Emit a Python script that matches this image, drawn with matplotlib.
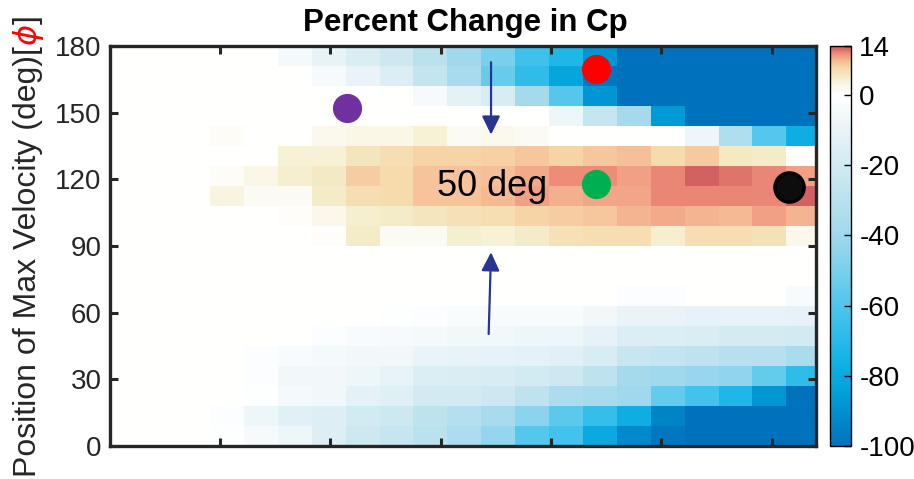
import numpy as np
import matplotlib
matplotlib.use("Agg")
import matplotlib.pyplot as plt
from matplotlib.colors import LinearSegmentedColormap, Normalize
from matplotlib.cm import ScalarMappable

plt.rcParams['font.family'] = ['Liberation Sans', 'DejaVu Sans']

# ---------------- data ----------------
# rows listed from the top (171-180 deg) to the bottom (0-9 deg); 21 columns each
pct_change_rows = [
    [0, 0, 0, 0, 0, -5, -10, -17, -22, -30, -40, -50, -64, -72, -88, -100, -100, -100, -100, -100, -100],
    [0, 0, 0, 0, 0, 0, -4, -9, -16, -26, -37, -54, -68, -82, -98, -100, -100, -100, -100, -100, -100],
    [0, 0, 0, 0, 0, 0, 0, 0, 0, -4, -12, -18, -38, -58, -88, -100, -100, -100, -100, -100, -100],
    [0, 0, 0, 0, 0, 0, 0, 0, 0, 0, 0, 0, 0, -8, -25, -38, -87, -100, -100, -100, -100],
    [0, 0, 0, 1, 0, 0, 2, 3, 3, 4, 1.5, 2, 1.5, 0, 0, 0, 0, -8, -33, -58, -78],
    [0, 0, 0, 0, 0, 4, 4, 6, 7, 8, 8, 8.3, 9, 8.2, 9, 9.5, 7.5, 8.8, 5.5, 5, 0.5],
    [0, 0, 0, 1, 3, 4.5, 5.5, 8.5, 7.5, 9.3, 9.3, 9.5, 10.5, 11.8, 11.8, 11, 12, 13.5, 12.8, 12, 11],
    [0, 0, 0, 3.5, 1.5, 1.5, 5, 7, 7.5, 9.2, 9.2, 9.8, 11, 10.3, 10.8, 10.8, 12, 12, 12, 12, 13.5],
    [0, 0, 0, 0, 0, 0.5, 2.5, 4.5, 5, 6, 6.5, 7, 8, 8.5, 9, 10, 10.5, 10, 9.8, 11, 10],
    [0, 0, 0, 0, 0, 0, 0.5, 5, 1.5, 1.5, 4.5, 4, 5, 6.5, 7, 7, 4.5, 7, 7, 6.5, 2.5],
    [0, 0, 0, 0, 0, 0, 0, 0, 0, 0, 0, 0, 0, 0, 0, 0, 0, 0, 0, 0, 0],
    [0, 0, 0, 0, 0, 0, 0, 0, 0, 0, 0, 0, 0, 0, 0, 0, 0, 0, 0, 0, 0],
    [0, 0, 0, 0, 0, 0, 0, 0, 0, 0, 0, 0, 0, 0, 0, -1.5, -2, 0, 0, 0, -3],
    [0, 0, 0, 0, 0, 0, 0, 0, -1, -2, -2.5, -3, -3, -3.5, -6, -9, -9, -11, -10, -10, -11],
    [0, 0, 0, 0, 0, 0, -1.5, -3, -4, -5, -6, -6, -8, -8, -11, -16, -16, -17, -19, -19, -20],
    [0, 0, 0, 0, -1.5, -3, -5, -6, -6, -9, -10, -11, -12, -13, -18, -24, -26, -28, -31, -31, -36],
    [0, 0, 0, 0, -2, -6, -6, -8, -10, -16, -17, -18, -20, -22, -28, -38, -40, -42, -44, -55, -68],
    [0, 0, 0, 0, -1, -5, -6, -12, -14, -20, -20, -22, -28, -35, -37, -40, -55, -63, -72, -88, -100],
    [0, 0, 0, -2, -8, -13, -15, -20, -22, -28, -32, -37, -45, -57, -66, -78, -94, -100, -100, -100, -100],
    [0, 0, 0, -1, -4, -8, -15, -22, -25, -30, -35, -43, -58, -63, -80, -92, -98, -100, -100, -100, -100],
]
phi_bin_deg = 9
y_ticks = [0, 30, 60, 90, 120, 150, 180]
cbar_ticks = [-100, -80, -60, -40, -20, 0, 14]
value_min, value_max = -100, 14

cmap_values = [-100, -85, -75, -62, -50, -40, -30, -20, -10, 0, 3, 5.5, 8, 10, 12, 14]
cmap_colors = ['#0072BD', '#00A0DA', '#14B4E6', '#46C3EC', '#78D0EC', '#A0D8ED',
               '#B9E1EE', '#D2EAF2', '#E8F3F7', '#FFFFFF', '#FAF7E8', '#F3EAC3',
               '#F7D7A8', '#F5B994', '#EE8C78', '#CD555A']

marker_labels = ['purple', 'red', 'green', 'black']
marker_x = [6.54, 13.9, 13.9, 19.57]
marker_y = [152.3, 169.6, 117.7, 116.7]

# ---------------- figure ----------------
fig = plt.figure(figsize=(9.14, 4.79), dpi=100)
ax = fig.add_axes([110 / 914, 33 / 479, 706 / 914, 400 / 479])

Z = np.array(pct_change_rows, dtype=float)[::-1]
n_rows, n_cols = Z.shape
x_edges = np.arange(n_cols + 1) - 0.5
y_edges = np.arange(n_rows + 1) * phi_bin_deg

pos = [(v - value_min) / (value_max - value_min) for v in cmap_values]
cmap = LinearSegmentedColormap.from_list('pct', list(zip(pos, cmap_colors)), N=512)
norm = Normalize(value_min, value_max)

ax.pcolormesh(x_edges, y_edges, Z, cmap=cmap, norm=norm, shading='flat',
              edgecolors='none', antialiased=False)
ax.set_xlim(-0.45, 20.376)
ax.set_ylim(0, 180)

xt = [2.795 + 3.255 * k for k in range(6)]
ax.set_xticks(xt)
ax.set_xticklabels([])
ax.set_yticks(y_ticks)
ax.set_yticklabels([str(t) for t in y_ticks])
ax.tick_params(direction='in', length=6, width=2.2, top=True, right=True,
               labelsize=20, color='#262626', labelcolor='#262626', pad=6)
for s in ax.spines.values():
    s.set_linewidth(2.4)
    s.set_color('#262626')

# markers
ax.plot(marker_x[0], marker_y[0], 'o', ms=20, color='#7030A0', mec='#7030A0')
ax.plot(marker_x[1], marker_y[1], 'o', ms=20, color='#FF0000', mec='#FF0000')
ax.plot(marker_x[2], marker_y[2], 'o', ms=20, color='#00B050', mec='#00B050')
ax.plot(marker_x[3], marker_y[3], 'o', ms=21, color='#0D0D0D', mec='black', mew=2.5)

# arrows
arrow_kw = dict(arrowstyle='-|>,head_length=0.45,head_width=0.22', color='#283593',
                lw=1.6, mutation_scale=25, shrinkA=0, shrinkB=0)
ax.annotate('', xy=(10.79, 140.1), xytext=(10.79, 172.7), arrowprops=arrow_kw)
ax.annotate('', xy=(10.79, 87.2), xytext=(10.72, 50.4), arrowprops=arrow_kw)

ax.text(9.2, 117.0, '50 deg', fontsize=26, color='black', ha='left', va='center')

# title
fig.text(465 / 914, (479 - 31) / 479, 'Percent Change in Cp', fontsize=22.5,
         fontweight='bold', ha='center', va='baseline', color='black')

# colorbar
cax = fig.add_axes([830 / 914, 33 / 479, 21 / 914, 400 / 479])
sm = ScalarMappable(norm=norm, cmap=cmap)
cb = fig.colorbar(sm, cax=cax, ticks=cbar_ticks)
cb.ax.set_yticklabels([str(t) for t in cbar_ticks])
cb.outline.set_linewidth(1.0)
cb.outline.set_edgecolor('black')
cax.tick_params(direction='in', length=5, width=1, labelsize=20,
                color='black', labelcolor='black', pad=6)

# y label with red phi
fig.canvas.draw()
renderer = fig.canvas.get_renderer()
lab_x = 28 / 914
parts = [('Position of Max Velocity (deg)[', '#262626'), ('$\\phi$', 'red'), (']', '#262626')]
texts = []
ycur = 0.0
for s, c in parts:
    t = fig.text(lab_x, ycur, s, rotation=90, rotation_mode='anchor', ha='left',
                 va='center', fontsize=23, color=c)
    fig.canvas.draw()
    bb = t.get_window_extent(renderer)
    ycur = bb.y1 / fig.bbox.height
    texts.append(t)
total = ycur
center = (479 - 246) / 479
shift = center - total / 2
for t in texts:
    x0, y0 = t.get_position()
    t.set_position((x0, y0 + shift))

fig.savefig('out.png', dpi=100)
